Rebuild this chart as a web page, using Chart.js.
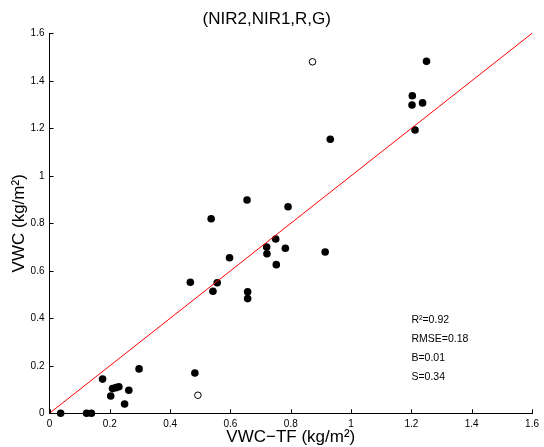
<!DOCTYPE html>
<html><head><meta charset="utf-8">
<script src="https://cdn.jsdelivr.net/npm/chart.js@4/dist/chart.umd.min.js"></script>
<style>html,body{margin:0;padding:0;background:#fff;overflow:hidden}#wrap{width:544px;height:447px;position:relative}</style>
</head><body><div id="wrap"><canvas id="c"></canvas></div>
<script>
const titleText = '(NIR2,NIR1,R,G)';
const xLabel = 'VWC\u2212TF (kg/m\u00b2)';
const yLabel = 'VWC (kg/m\u00b2)';
const tickValues = [0, 0.2, 0.4, 0.6, 0.8, 1, 1.2, 1.4, 1.6];
const tickLabels = ['0', '0.2', '0.4', '0.6', '0.8', '1', '1.2', '1.4', '1.6'];
const filledX = [0.037, 0.123, 0.139, 0.176, 0.203, 0.209, 0.220, 0.230, 0.249, 0.263, 0.297, 0.482, 0.467, 0.536, 0.542, 0.556, 0.597, 0.655, 0.657, 0.657, 0.720, 0.721, 0.750, 0.752, 0.782, 0.791, 0.914, 0.931, 1.203, 1.202, 1.237, 1.212, 1.250];
const filledY = [0, 0, 0, 0.144, 0.073, 0.104, 0.108, 0.112, 0.039, 0.097, 0.187, 0.170, 0.552, 0.819, 0.514, 0.550, 0.655, 0.898, 0.512, 0.483, 0.700, 0.672, 0.734, 0.626, 0.695, 0.870, 0.679, 1.154, 1.337, 1.298, 1.307, 1.193, 1.482];
const openX = [0.492, 0.872];
const openY = [0.076, 1.480];
const lineX = [0, 1.6];
const lineY = [0, 1.6];
const statsLines = ['R\u00b2=0.92', 'RMSE=0.18', 'B=0.01', 'S=0.34'];

const FONT = '"Liberation Sans", Arial, Helvetica, sans-serif';
const toPts = (xs, ys) => xs.map((x, i) => ({x: x, y: ys[i]}));

const inwardTicks = {
  id: 'inwardTicks',
  afterDatasetsDraw(chart) {
    const ctx = chart.ctx, xs = chart.scales.x, ys = chart.scales.y;
    const a = chart.chartArea, L = 4;
    ctx.save();
    ctx.strokeStyle = '#000';
    ctx.lineWidth = 1;
    ctx.beginPath();
    tickValues.forEach(v => {
      const px = Math.round(xs.getPixelForValue(v)) + 0.5;
      ctx.moveTo(px, a.bottom); ctx.lineTo(px, a.bottom - L);
      const py = Math.round(ys.getPixelForValue(v)) + 0.5;
      ctx.moveTo(a.left, py); ctx.lineTo(a.left + L, py);
    });
    ctx.stroke();
    ctx.fillStyle = '#000';
    ctx.font = '10.5px ' + FONT;
    ctx.textBaseline = 'middle';
    ctx.textAlign = 'left';
    const sx = xs.getPixelForValue(1.2);
    const sy = ys.getPixelForValue(0.393);
    statsLines.forEach((t, i) => ctx.fillText(t, sx, sy + i * 19));
    ctx.restore();
  }
};

new Chart(document.getElementById('c'), {
  type: 'scatter',
  data: {
    datasets: [
      {type: 'line', data: toPts(lineX, lineY), borderColor: '#ff0000', borderWidth: 1, pointRadius: 0, fill: false, clip: false},
      {data: toPts(filledX, filledY), backgroundColor: '#000', borderColor: '#000', pointRadius: 3.8, borderWidth: 0, clip: false},
      {data: toPts(openX, openY), backgroundColor: '#fff', borderColor: '#000', pointRadius: 3.3, borderWidth: 1, clip: false}
    ]
  },
  options: {
    responsive: true,
    maintainAspectRatio: false,
    devicePixelRatio: 1,
    animation: false,
    layout: {padding: {left: 0, right: 10.5, top: 0, bottom: 0}},
    plugins: {
      legend: {display: false},
      tooltip: {enabled: false},
      title: {display: true, text: titleText, color: '#000',
        font: {family: FONT, size: 17, weight: 'normal', lineHeight: 1},
        padding: {top: 10.5, bottom: 5.8}}
    },
    scales: {
      x: {
        type: 'linear', min: 0, max: 1.6,
        afterBuildTicks: s => { s.ticks = tickValues.map(v => ({value: v})); },
        afterFit: s => { s.height = 33.7; },
        grid: {display: true, drawOnChartArea: false, drawTicks: false},
        border: {display: true, color: '#000', width: 1},
        ticks: {color: '#000', padding: 5, maxRotation: 0, autoSkip: false,
          font: {family: FONT, size: 10},
          callback: (v, i) => tickLabels[i]},
        title: {display: true, text: xLabel, color: '#000',
          font: {family: FONT, size: 17, lineHeight: 1}, padding: {top: 0, bottom: 1.5}}
      },
      y: {
        type: 'linear', min: 0, max: 1.6,
        afterBuildTicks: s => { s.ticks = tickValues.map(v => ({value: v})); },
        afterFit: s => { s.width = 49.5; },
        grid: {display: true, drawOnChartArea: false, drawTicks: false},
        border: {display: true, color: '#000', width: 1},
        ticks: {color: '#000', padding: 5, autoSkip: false,
          font: {family: FONT, size: 10},
          callback: (v, i) => tickLabels[i]},
        title: {display: true, text: yLabel, color: '#000',
          font: {family: FONT, size: 17, lineHeight: 1}, padding: {top: 11, bottom: 0}}
      }
    }
  },
  plugins: [inwardTicks]
});
</script>
</body></html>
